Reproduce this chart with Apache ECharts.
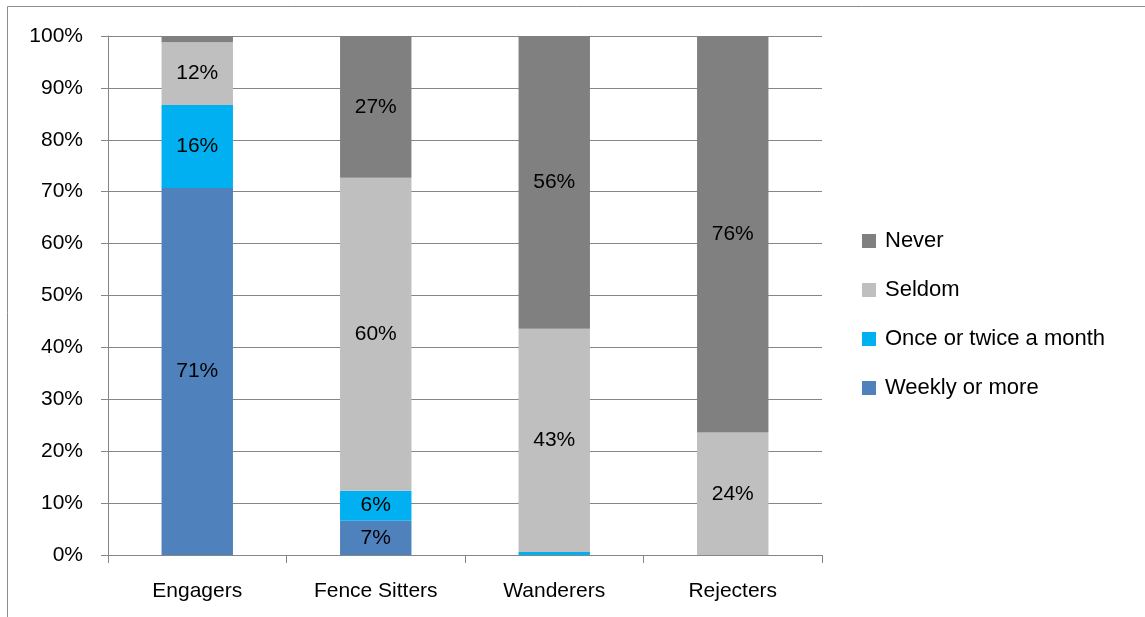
<!DOCTYPE html>
<html>
<head>
<meta charset="utf-8">
<script src="https://cdn.jsdelivr.net/npm/echarts@6/dist/echarts.min.js"></script>
<style>
  html, body { margin: 0; padding: 0; background: #fff; }
  #chart { width: 1145px; height: 617px; }
</style>
</head>
<body>
<div id="chart"></div>
<script>
// Share of each group (percent)
const categories = ['Engagers', 'Fence Sitters', 'Wanderers', 'Rejecters'];
const weekly = [70.7, 6.6, 0, 0];
const monthly = [16.0, 5.8, 0.6, 0];
const seldom = [12.1, 60.3, 43.0, 23.6];
const never = [1.2, 27.3, 56.4, 76.4];
const yTicks = ['0%', '10%', '20%', '30%', '40%', '50%', '60%', '70%', '80%', '90%', '100%'];

const fontFamily = '"Liberation Sans", Arial, sans-serif';

const chart = echarts.init(document.getElementById('chart'), null, { renderer: 'canvas' });

function makeSeries(name, values, color) {
    return {
        name: name,
        type: 'bar',
        stack: 'total',
        data: values,
        barWidth: '40%',
        itemStyle: { color: color },
        label: {
            show: true,
            position: 'inside',
            color: '#000',
            fontSize: 21,
            fontFamily: fontFamily,
            formatter: function (p) {
                return p.value >= 3 ? Math.round(p.value) + '%' : '';
            }
        },
        emphasis: { disabled: true }
    };
}

const option = {
    animation: false,
    backgroundColor: '#fff',
    graphic: [{
        type: 'rect',
        shape: { x: 7.5, y: 6.5, width: 1200, height: 700 },
        style: { fill: 'none', stroke: '#8c8c8c', lineWidth: 1 },
        silent: true,
        z: -1
    }],
    grid: { left: 108, right: 323, top: 36, bottom: 62 },
    legend: {
        orient: 'vertical',
        left: 862,
        top: 230,
        padding: 0,
        itemWidth: 14,
        itemHeight: 14,
        itemGap: 27,
        icon: 'rect',
        textStyle: { fontSize: 22, color: '#000', fontFamily: fontFamily, padding: [0, 0, 0, 4] },
        data: ['Never', 'Seldom', 'Once or twice a month', 'Weekly or more']
    },
    xAxis: {
        type: 'category',
        data: categories,
        axisLine: { lineStyle: { color: '#868686' } },
        axisTick: { show: true, length: 8, lineStyle: { color: '#868686' } },
        axisLabel: { fontSize: 21, color: '#000', fontFamily: fontFamily, margin: 26 },
        splitLine: { show: false }
    },
    yAxis: {
        type: 'value',
        min: 0,
        max: 100,
        interval: 10,
        axisLine: { show: true, lineStyle: { color: '#868686' } },
        axisTick: { show: true, length: 7, lineStyle: { color: '#868686' } },
        axisLabel: {
            fontSize: 21,
            color: '#000',
            fontFamily: fontFamily,
            margin: 25,
            formatter: function (v) { return yTicks[Math.round(v / 10)]; }
        },
        splitLine: { lineStyle: { color: '#868686' } }
    },
    series: [
        makeSeries('Weekly or more', weekly, '#4F81BD'),
        makeSeries('Once or twice a month', monthly, '#00B0F0'),
        makeSeries('Seldom', seldom, '#BFBFBF'),
        makeSeries('Never', never, '#808080')
    ]
};

chart.setOption(option);
</script>
</body>
</html>
